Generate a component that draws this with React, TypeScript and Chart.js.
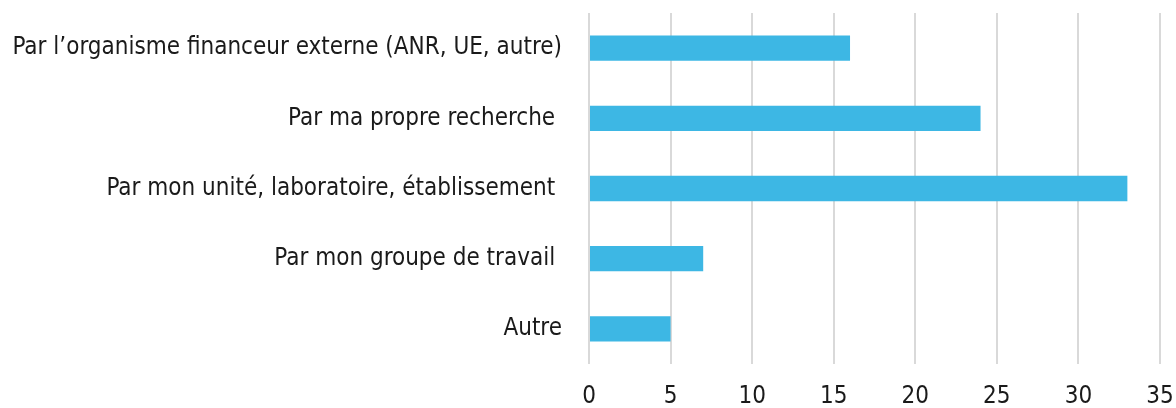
import React, { useEffect, useRef } from "react";
import { Chart, registerables } from "chart.js";

Chart.register(...registerables);

const categories = [
  "Par l\u2019organisme financeur externe (ANR, UE, autre)",
  "Par ma propre recherche ",
  "Par mon unit\u00e9, laboratoire, \u00e9tablissement ",
  "Par mon groupe de travail ",
  "Autre",
];
const values = [16, 24, 33, 7, 5];
const xMin = 0;
const xMax = 35;
const xStep = 5;

const FONT = "'DejaVu Sans Condensed', 'DejaVu Sans', sans-serif";

export default function App() {
  const ref = useRef<HTMLCanvasElement>(null);
  useEffect(() => {
    document.body.style.margin = "0";
    const ctx = ref.current!;
    const chart = new Chart(ctx, {
      type: "bar",
      data: {
        labels: categories,
        datasets: [
          {
            data: values,
            backgroundColor: "#3db7e4",
            borderWidth: 0,
            barPercentage: 0.72,
            categoryPercentage: 0.5,
          },
        ],
      },
      options: {
        indexAxis: "y",
        animation: false,
        responsive: false,
        maintainAspectRatio: false,
        layout: { padding: { top: 13, right: 16, left: 0, bottom: 0 } },
        plugins: { legend: { display: false }, tooltip: { enabled: false } },
        scales: {
          x: {
            min: xMin,
            max: xMax,
            ticks: {
              stepSize: xStep,
              color: "#1a1a1a",
              font: { family: FONT, size: 24, lineHeight: 1.0 },
              padding: 0,
            },
            grid: {
              color: "#d9d9d9",
              lineWidth: 2,
              drawTicks: true,
              tickLength: 21,
              tickColor: "rgba(0,0,0,0)",
            },
            border: { display: false },
            afterFit: (s: any) => {
              s.height = 44;
            },
          },
          y: {
            ticks: {
              color: "#1a1a1a",
              font: { family: FONT, size: 24, lineHeight: 1.0 },
              padding: 0,
            },
            grid: { display: false, drawTicks: true, tickLength: 27 },
            border: { display: false },
            afterFit: (s: any) => {
              s.width = 589;
            },
          },
        },
      },
    });
    return () => chart.destroy();
  }, []);
  return <canvas ref={ref} width={1176} height={408} style={{ display: "block" }} />;
}
